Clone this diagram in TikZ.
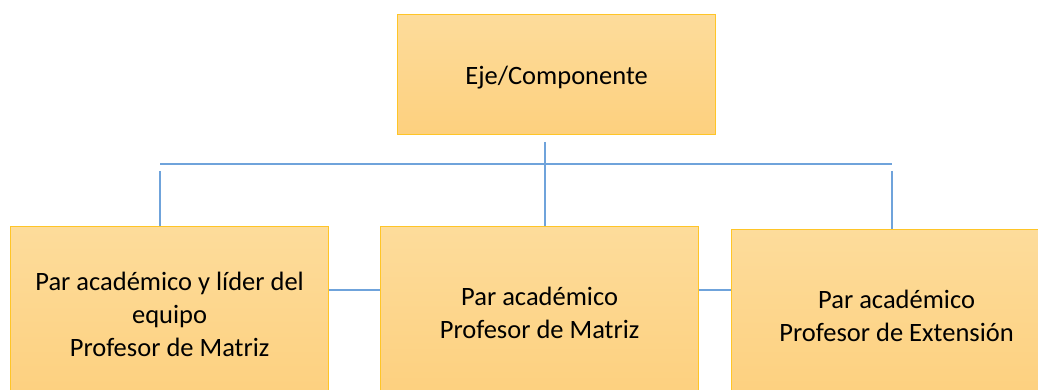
\documentclass[tikz,border=0pt]{standalone}
\usepackage{fontspec}
\setmainfont{Carlito}
\definecolor{boxtop}{HTML}{FDDC9B}
\definecolor{boxbot}{HTML}{FDD07E}
\definecolor{boxline}{HTML}{FFC527}
\definecolor{linkc}{HTML}{6FA3DB}
\tikzset{
  orgbox/.style={draw=boxline, line width=1.2pt, top color=boxtop, bottom color=boxbot,
    rectangle, inner sep=0pt, align=center, anchor=north west,
    font=\fontsize{26.5}{33}\selectfont},
  link/.style={draw=linkc, line width=1.4pt}
}
\begin{document}
\begin{tikzpicture}[x=1pt,y=-1pt]
\useasboundingbox (0,0) rectangle (1038,390);
\clip (0,0) rectangle (1038,390);
\node[orgbox, minimum width=318pt, minimum height=120pt, text height=26pt, text depth=6pt] (top) at (397,14) {Eje/Componente};
\node[orgbox, minimum width=318pt, minimum height=176pt] (left) at (10,226) {Par académico y líder del\\equipo\\Profesor de Matriz};
\node[orgbox, minimum width=318pt, minimum height=172pt] (mid) at (380,226) {Par académico\\Profesor de Matriz};
\node[orgbox, minimum width=330pt, minimum height=172pt] (right) at (731,229) {Par académico\\Profesor de Extensión};
\coordinate (tc) at (545,142);
\coordinate (hl) at (160,164);
\coordinate (hr) at (892,164);
\coordinate (vl) at (160,171);
\coordinate (vr) at (892,171);
\coordinate (yc) at (0,290);
\draw[link] (tc) -- (tc |- mid.north);
\draw[link] (hl) -- (hr);
\draw[link] (vl) -- (vl |- left.north);
\draw[link] (vr) -- (vr |- right.north);
\draw[link] (left.north east |- yc) -- (mid.north west |- yc);
\draw[link] (mid.north east |- yc) -- (right.north west |- yc);
\end{tikzpicture}
\end{document}
